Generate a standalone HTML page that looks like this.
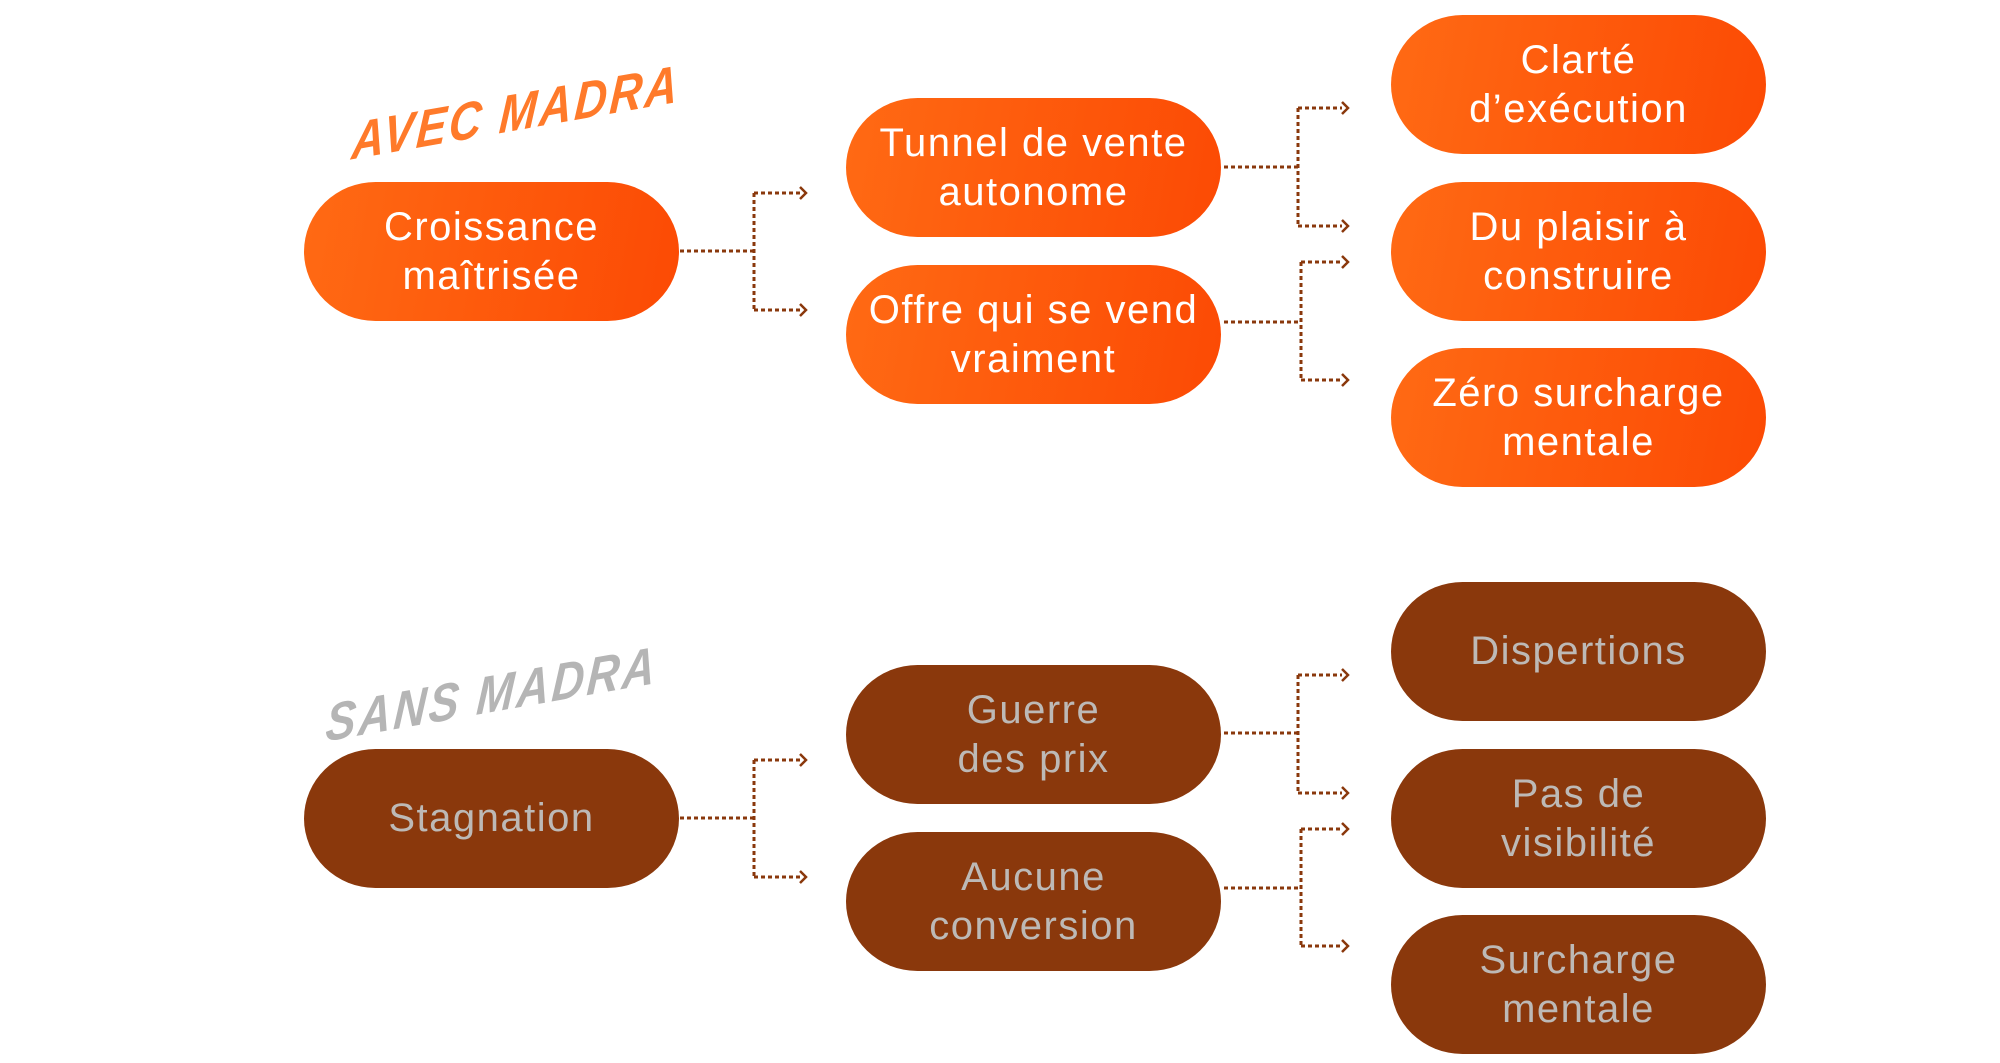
<!DOCTYPE html>
<html><head><meta charset="utf-8"><style>
body{margin:0;width:2000px;height:1063px;background:#fff;position:relative;overflow:hidden;font-family:"Liberation Sans",sans-serif}
.b{position:absolute;width:375px;height:139px;border-radius:72px/70px;display:flex;align-items:center;justify-content:center;text-align:center;font-size:40px;line-height:49px;letter-spacing:1.5px;box-sizing:border-box}
.o{background:linear-gradient(100deg,#ff6a14,#fc4a04);color:#fff}
.r{background:#8a380c;color:#bdb9b6}
.s{position:absolute;font-family:"Liberation Sans",sans-serif;font-weight:bold;font-style:italic;font-size:52px;letter-spacing:3px;transform:rotate(-10deg) skewX(-14deg) scaleX(0.88);transform-origin:left center;white-space:nowrap;line-height:60px}
</style></head><body>
<div class="s" style="left:352px;top:112px;color:#ff7a2a">AVEC MADRA</div>
<div class="s" style="left:326px;top:694px;color:#b5b5b5">SANS MADRA</div>

<div class="b o" style="left:304px;top:182px">Croissance<br>maîtrisée</div>
<div class="b o" style="left:846px;top:98px">Tunnel de vente<br>autonome</div>
<div class="b o" style="left:846px;top:265px">Offre qui se vend<br>vraiment</div>
<div class="b o" style="left:1391px;top:15px">Clarté<br>d’exécution</div>
<div class="b o" style="left:1391px;top:182px">Du plaisir à<br>construire</div>
<div class="b o" style="left:1391px;top:348px">Zéro surcharge<br>mentale</div>

<div class="b r" style="left:304px;top:749px">Stagnation</div>
<div class="b r" style="left:846px;top:665px">Guerre<br>des prix</div>
<div class="b r" style="left:846px;top:832px">Aucune<br>conversion</div>
<div class="b r" style="left:1391px;top:582px">Dispertions</div>
<div class="b r" style="left:1391px;top:749px">Pas de<br>visibilité</div>
<div class="b r" style="left:1391px;top:915px">Surcharge<br>mentale</div>

<svg width="2000" height="1063" style="position:absolute;left:0;top:0" fill="none" stroke="#8a380c" stroke-width="3">
<g stroke-dasharray="4 3">
<path d="M680 251H754M754 193V310M754 193H800M754 310H800"/>
<path d="M1224 167H1298M1298 108V226M1298 108H1342M1298 226H1342"/>
<path d="M1224 322H1301M1301 262V380M1301 262H1342M1301 380H1342"/>
<path d="M680 818H754M754 760V877M754 760H800M754 877H800"/>
<path d="M1224 733H1298M1298 675V793M1298 675H1342M1298 793H1342"/>
<path d="M1224 888H1301M1301 829V946M1301 829H1342M1301 946H1342"/>
</g>
<g stroke-width="2.5">
<path d="M800 187l6 6-6 6M800 304l6 6-6 6M1342 102l6 6-6 6M1342 220l6 6-6 6M1342 256l6 6-6 6M1342 374l6 6-6 6"/>
<path d="M800 754l6 6-6 6M800 871l6 6-6 6M1342 669l6 6-6 6M1342 787l6 6-6 6M1342 823l6 6-6 6M1342 940l6 6-6 6"/>
</g>
</svg>
</body></html>
